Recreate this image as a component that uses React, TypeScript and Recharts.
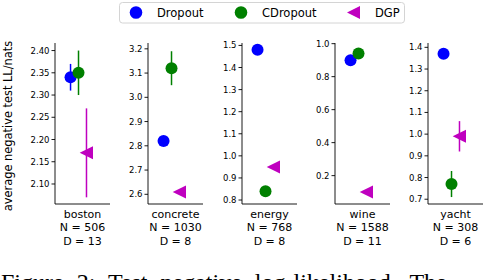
import React from 'react';
import { ScatterChart, Scatter, XAxis, YAxis, ErrorBar } from 'recharts';

const DATASETS = ['boston', 'concrete', 'energy', 'wine', 'yacht'];
const N_SIZES = [506, 1030, 768, 1588, 308];
const D_DIMS = [13, 8, 8, 11, 6];

const DROPOUT = [2.34, 2.82, 1.48, 0.9, 1.37];
const DROPOUT_ERR = [0.03, 0, 0, 0, 0];
const CDROPOUT = [2.35, 3.12, 0.84, 0.94, 0.77];
const CDROPOUT_ERR = [0.05, 0.07, 0, 0, 0.06];
const DGP = [2.17, 2.61, 0.95, 0.1, 0.99];
const DGP_ERR = [0.1, 0, 0, 0, 0.07];

const Y_TICKS = [
  [2.1, 2.15, 2.2, 2.25, 2.3, 2.35, 2.4],
  [2.6, 2.7, 2.8, 2.9, 3.0, 3.1, 3.2],
  [0.8, 0.9, 1.0, 1.1, 1.2, 1.3, 1.4, 1.5],
  [0.2, 0.4, 0.6, 0.8, 1.0],
  [0.7, 0.8, 0.9, 1.0, 1.1, 1.2, 1.3, 1.4],
];
const Y_DOMAINS = [[2.055, 2.417], [2.56, 3.224], [0.782, 1.511], [0.028, 1.004], [0.678, 1.42]];
const Y_DECIMALS = [2, 1, 1, 1, 1];
const METHOD_X = [0, 1, 2];

const BLUE = '#0000ff', GREEN = '#008000', MAGENTA = '#bf00bf';
const FONT = '"DejaVu Sans", sans-serif';
const AXIS_X = [54.5, 148, 241.5, 334.5, 428];

const dot = (color: string) => (p: any) => <circle cx={p.cx} cy={p.cy} r={6} fill={color} />;
const tri = (p: any) => (
  <polygon points={`${p.cx - 6.8},${p.cy} ${p.cx + 6.5},${p.cy - 6.5} ${p.cx + 6.5},${p.cy + 6.5}`} fill={MAGENTA} />
);

const Panel: React.FC<{ i: number }> = ({ i }) => {
  const pt = (v: number[], e: number[], k: number) => [{ x: METHOD_X[k], y: v[i], err: e[i] }];
  const XTick = (p: any) => (
    <g transform={`translate(${p.x},${p.y})`} fontFamily={FONT} fontSize={11} fill="#000">
      <text textAnchor="middle" dy={13.5}>{DATASETS[i]}</text>
      <text textAnchor="middle" dy={27}>{`N = ${N_SIZES[i]}`}</text>
      <text textAnchor="middle" dy={40.5}>{`D = ${D_DIMS[i]}`}</text>
    </g>
  );
  return (
    <div style={{ position: 'absolute', left: AXIS_X[i] - 40, top: 0 }}>
      <ScatterChart width={99} height={260} margin={{ top: 43, right: 4, bottom: 0, left: 0 }} style={{ overflow: 'visible' }}>
        <XAxis type="number" dataKey="x" domain={[-1.95, 4.95]} ticks={[1.5]} tickLine={false} tickSize={0} tickMargin={0}
          axisLine={{ stroke: '#000', strokeWidth: 0.9 }} height={56} tick={<XTick />} interval={0} />
        <YAxis type="number" dataKey="y" domain={Y_DOMAINS[i]} ticks={Y_TICKS[i]} width={40} allowDataOverflow interval={0}
          tickFormatter={(v: number) => v.toFixed(Y_DECIMALS[i])} tickSize={3.5} tickMargin={2}
          tick={{ fontSize: 8.5, fill: '#000', fontFamily: FONT }} tickLine={{ stroke: '#000', strokeWidth: 0.9 }}
          axisLine={{ stroke: '#000', strokeWidth: 0.9 }} />
        <Scatter data={pt(DROPOUT, DROPOUT_ERR, 0)} shape={dot(BLUE)} isAnimationActive={false}>
          <ErrorBar dataKey="err" direction="y" width={0} stroke={BLUE} strokeWidth={1.5} />
        </Scatter>
        <Scatter data={pt(CDROPOUT, CDROPOUT_ERR, 1)} shape={dot(GREEN)} isAnimationActive={false}>
          <ErrorBar dataKey="err" direction="y" width={0} stroke={GREEN} strokeWidth={1.5} />
        </Scatter>
        <Scatter data={pt(DGP, DGP_ERR, 2)} shape={tri} isAnimationActive={false}>
          <ErrorBar dataKey="err" direction="y" width={0} stroke={MAGENTA} strokeWidth={1.5} />
        </Scatter>
      </ScatterChart>
    </div>
  );
};

export default function App() {
  return (
    <div style={{ position: 'fixed', left: 0, top: 0, width: 484, height: 280, overflow: 'hidden', background: '#fff' }}>
      {DATASETS.map((_, i) => <Panel key={i} i={i} />)}
      <svg width={484} height={280} style={{ position: 'absolute', left: 0, top: 0, pointerEvents: 'none' }}>
        <rect x={119.5} y={2.5} width={285} height={20.5} rx={3} fill="#fff" stroke="#d4d4d4" />
        <circle cx={136} cy={12.5} r={6.3} fill={BLUE} />
        <text x={157} y={16.5} fontFamily={FONT} fontSize={11.5}>Dropout</text>
        <circle cx={241} cy={12.5} r={6.3} fill={GREEN} />
        <text x={262} y={16.5} fontFamily={FONT} fontSize={11.5}>CDropout</text>
        <polygon points="347,12.5 360,6 360,19" fill={MAGENTA} />
        <text x={375} y={16.5} fontFamily={FONT} fontSize={11.5}>DGP</text>
        <text transform="translate(12,126) rotate(-90)" textAnchor="middle" fontFamily={FONT} fontSize={11.4}>
          average negative test LL/nats
        </text>
        <text x={1} y={290} fontFamily='"Liberation Serif", serif' fontSize={24} wordSpacing={7} fill="#000">
          Figure 2: Test negative log-likelihood. The
        </text>
      </svg>
    </div>
  );
}
